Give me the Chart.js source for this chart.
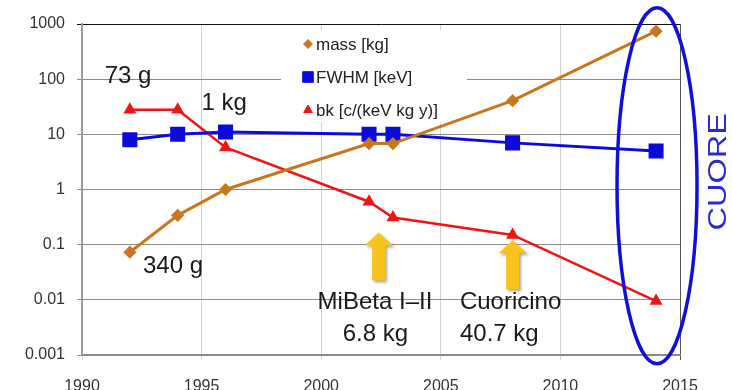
<!DOCTYPE html>
<html>
<head>
<meta charset="utf-8">
<script src="https://cdn.jsdelivr.net/npm/chart.js@4.4.1/dist/chart.umd.min.js"></script>
<style>
  html, body { margin: 0; padding: 0; background: #fff; }
  #wrap { width: 732px; height: 390px; position: relative; }
</style>
</head>
<body>
<div id="wrap"><canvas id="cuoreChart" width="732" height="390"></canvas></div>
<script>
// year of each detector generation
const years = [1992, 1994, 1996, 2002, 2003, 2008, 2014];
// detector mass [kg]
const massKg = [0.073, 0.34, 1, 6.8, 6.8, 40.7, 741];
// energy resolution FWHM [keV]
const fwhmKeV = [8, 10, 11, 10, 10, 7, 5];
// background index [c/(keV kg y)]
const bkIndex = [28, 28, 5.8, 0.6, 0.31, 0.15, 0.0095];

const yTicks = [0.001, 0.01, 0.1, 1, 10, 100, 1000];
const yTickLabels = ['0.001', '0.01', '0.1', '1', '10', '100', '1000'];
const xTicks = [1990, 1995, 2000, 2005, 2010, 2015];

const seriesNames = ['mass [kg]', 'FWHM [keV]', 'bk [c/(keV kg y)]'];

// text notes, placed in data space (x = year, y = value)
const notes = [
    { text: '73 g', x: 1990.95, y: 87 },
    { text: '1 kg', x: 1995.0, y: 28 },
    { text: '340 g', x: 1992.55, y: 0.031 },
    { text: 'MiBeta I\u2013II', x: 1999.85, y: 0.0067 },
    { text: '6.8 kg', x: 2000.9, y: 0.0018 },
    { text: 'Cuoricino', x: 2005.8, y: 0.0067 },
    { text: '40.7 kg', x: 2005.8, y: 0.0018 }
];

// yellow arrows pointing at the two intermediate experiments
const arrows = [
    { x: 2002.4, tip: 0.166, base: 0.0224 },
    { x: 2008.0, tip: 0.12, base: 0.0155 }
];

const FONT = '"Liberation Sans", Arial, sans-serif';

function points(values) {
    return years.map((yr, i) => ({ x: yr, y: values[i] }));
}

const extras = {
    id: 'extras',
    beforeDatasetsDraw(chart) {
        const ctx = chart.ctx;
        // white box behind the legend
        ctx.save();
        ctx.fillStyle = '#fff';
        ctx.fillRect(281, 30, 186, 92);
        ctx.restore();
    },
    afterDraw(chart) {
        const ctx = chart.ctx;
        const xs = chart.scales.x, ys = chart.scales.y;

        // legend
        ctx.save();
        ctx.font = '17px ' + FONT;
        ctx.textBaseline = 'middle';
        const rows = [44, 77, 110];
        chart.data.datasets.forEach((ds, i) => {
            const r = i === 0 ? 4.5 : (i === 1 ? 7.5 : 5);
            ctx.fillStyle = ds.pointBackgroundColor;
            ctx.strokeStyle = ds.pointBackgroundColor;
            ctx.lineWidth = 1;
            Chart.helpers.drawPoint(ctx, { pointStyle: ds.pointStyle, radius: r, rotation: 0, borderWidth: 1 }, 308, rows[i]);
            ctx.fillStyle = '#222';
            ctx.fillText(seriesNames[i], 316, rows[i] + 1);
        });
        ctx.restore();

        // notes
        ctx.save();
        ctx.font = '24px ' + FONT;
        ctx.fillStyle = '#1a1a1a';
        ctx.textBaseline = 'alphabetic';
        notes.forEach(n => {
            ctx.fillText(n.text, xs.getPixelForValue(n.x), ys.getPixelForValue(n.y));
        });
        ctx.restore();

        // arrows
        ctx.save();
        ctx.fillStyle = '#f7c41c';
        ctx.shadowColor = 'rgba(0,0,0,0.35)';
        ctx.shadowBlur = 3;
        ctx.shadowOffsetX = 2;
        ctx.shadowOffsetY = 2;
        arrows.forEach(a => {
            const cx = xs.getPixelForValue(a.x);
            const ty = ys.getPixelForValue(a.tip);
            const by = ys.getPixelForValue(a.base);
            const hy = ty + 13;
            ctx.beginPath();
            ctx.moveTo(cx, ty);
            ctx.lineTo(cx + 14, hy);
            ctx.lineTo(cx + 6.5, hy);
            ctx.lineTo(cx + 6.5, by);
            ctx.lineTo(cx - 6.5, by);
            ctx.lineTo(cx - 6.5, hy);
            ctx.lineTo(cx - 14, hy);
            ctx.closePath();
            ctx.fill();
        });
        ctx.restore();

        // ellipse around the last point and its label
        ctx.save();
        ctx.strokeStyle = '#1010d8';
        ctx.lineWidth = 3.5;
        ctx.beginPath();
        ctx.ellipse(xs.getPixelForValue(2014.04), ys.getPixelForValue(1.17), 40, 178, 0, 0, Math.PI * 2);
        ctx.stroke();

        ctx.translate(xs.getPixelForValue(2016.65), ys.getPixelForValue(2.1));
        ctx.rotate(-Math.PI / 2);
        ctx.scale(1.3, 1);
        ctx.font = '25px ' + FONT;
        ctx.fillStyle = '#2a2ad0';
        ctx.textAlign = 'center';
        ctx.textBaseline = 'middle';
        ctx.fillText('CUORE', 0, 0);
        ctx.restore();
    }
};

const ctx = document.getElementById('cuoreChart').getContext('2d');
const cuoreChart = new Chart(ctx, {
    type: 'line',
    data: {
        datasets: [{
            label: seriesNames[0],
            data: points(massKg),
            borderColor: '#c9771f',
            backgroundColor: '#c9771f',
            pointBackgroundColor: '#c9771f',
            pointBorderColor: '#c9771f',
            pointStyle: 'rectRot',
            pointRadius: 4.5,
            borderWidth: 3,
            tension: 0
        }, {
            label: seriesNames[1],
            data: points(fwhmKeV),
            borderColor: '#0b0bdc',
            backgroundColor: '#0b0bdc',
            pointBackgroundColor: '#0b0bdc',
            pointBorderColor: '#0b0bdc',
            pointStyle: 'rect',
            pointRadius: 8.5,
            borderWidth: 3,
            tension: 0
        }, {
            label: seriesNames[2],
            data: points(bkIndex),
            borderColor: '#f01414',
            backgroundColor: '#f01414',
            pointBackgroundColor: '#f01414',
            pointBorderColor: '#f01414',
            pointStyle: 'triangle',
            pointRadius: 5,
            borderWidth: 2.5,
            tension: 0
        }]
    },
    options: {
        responsive: false,
        animation: false,
        devicePixelRatio: 1,
        layout: { padding: { left: 0, right: 52, top: 24, bottom: 0 } },
        plugins: {
            legend: { display: false },
            tooltip: { enabled: false }
        },
        scales: {
            x: {
                type: 'linear',
                min: 1990,
                max: 2015,
                afterBuildTicks: s => { s.ticks = xTicks.map(v => ({ value: v })); },
                afterFit: s => { s.height = 35; },
                ticks: {
                    padding: 17,
                    maxRotation: 0,
                    autoSkip: false,
                    color: '#333',
                    font: { family: FONT, size: 16 },
                    callback: v => String(v)
                },
                grid: {
                    color: c => (c.tick && c.tick.value === 2015) ? '#555' : '#d2d2d2',
                    lineWidth: 1,
                    tickLength: 5
                },
                border: { color: '#8a8a8a', width: 2 }
            },
            y: {
                type: 'logarithmic',
                min: 0.001,
                max: 1000,
                afterBuildTicks: s => { s.ticks = yTicks.map(v => ({ value: v })); },
                afterFit: s => { s.width = 82; },
                ticks: {
                    padding: 12,
                    color: '#333',
                    font: { family: FONT, size: 16 },
                    callback: v => yTickLabels[yTicks.indexOf(v)] ?? ''
                },
                grid: {
                    color: c => (c.tick && c.tick.value === 1000) ? '#111' : '#8c8c8c',
                    lineWidth: 1,
                    tickLength: 5
                },
                border: { color: '#9a9a9a', width: 2 }
            }
        }
    },
    plugins: [extras]
});
</script>
</body>
</html>
